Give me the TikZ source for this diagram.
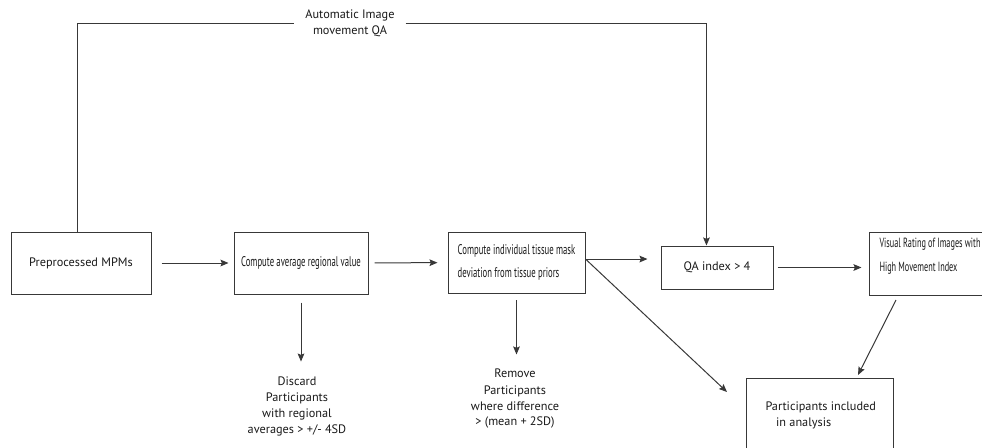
\documentclass[tikz,border=0pt]{standalone}
\usepackage{fontspec}
\setmainfont{PT Sans}
\newfontfamily\condfont[FakeStretch=0.62]{PT Sans}
\usetikzlibrary{arrows.meta}

\tikzset{every picture/.style={line width=0.75pt}}
\tikzset{
  box/.style={draw=black!78, inner sep=0.75pt},
  txt/.style={align=center, inner sep=0.75pt, text=black!90, font=\fontsize{9.2}{12}\selectfont},
  cond/.style={inner sep=0.75pt, text=black!90, font=\condfont\fontsize{10.5}{17.5}\selectfont},
  arrow/.style={draw=black!78, -{Stealth[length=6pt,width=5pt,inset=1pt]}},
  line/.style={draw=black!78}
}

\begin{document}
\begin{tikzpicture}[x=0.75pt,y=0.75pt,yscale=-1,xscale=1]
\useasboundingbox (0,0) rectangle (982,447);
\clip (0,0) rectangle (982,447);

% Boxes
\node [box, txt, minimum width=105pt, minimum height=46.5pt] (pre) at (81,263) {Preprocessed MPMs};
\node [box, cond, minimum width=100.5pt, minimum height=46.5pt] (avg) at (301,263) {Compute average regional value};
\node [box, cond, align=left, minimum width=102.75pt, minimum height=45.75pt] (tis) at (516.5,262.5) {Compute individual tissue mask\\deviation from tissue priors};
\node [box, txt, minimum width=84pt, minimum height=32.25pt] (qa) at (717,267.5) {QA index > 4};
\node [inner sep=0pt, minimum width=84pt, minimum height=46.5pt] (vis) at (926,263.5) {};
\draw [line] (vis.north east) -- (vis.north west) -- (vis.south west) -- (vis.south east);
\node [box, minimum width=110.25pt, minimum height=69pt] (inc) at (819.5,424) {};

% Text Node
\node [cond, font=\condfont\fontsize{10}{18}\selectfont, align=left, anchor=north west] (vistxt) at (878,237) {Visual Rating of Images with\\High Movement Index};
% Text Node
\node [txt, align=left, anchor=north west] (inctxt) at (764,400) {Participants included\\\hspace*{8pt}in analysis};
% Text Node
\node [txt] (dis) at (297,406) {Discard\\Participants\\with regional\\averages > +/- 4SD};
% Text Node
\node [txt] (rem) at (515,399) {Remove\\Participants\\where difference\\> (mean + 2SD)};
% Text Node
\node [txt, inner xsep=8pt] (auto) at (350,23.5) {Automatic Image\\movement QA};

\coordinate (tisout) at ([yshift=-2.6pt]tis.east);
\coordinate (incend) at (727,392);
\coordinate (visout) at (896,300);
\coordinate (incin) at (858,375);

%Straight Lines
\draw [arrow, shorten <=7.5pt, shorten >=3.75pt] (pre) -- (avg);
\draw [arrow, shorten <=4.5pt, shorten >=7.5pt] (avg) -- (tis);
\draw [arrow, shorten >=9.75pt] (tisout) -- (tisout -| qa.west);
\draw [arrow, shorten <=3pt, shorten >=6pt] (qa) -- (qa -| vis.west);
\draw [arrow] (tisout) -- (incend);
\draw [arrow] (visout) -- (incin);
\draw [arrow, shorten <=6pt, shorten >=10pt] (avg.south) -- (avg.south |- dis.north);
\draw [arrow, shorten <=5pt, shorten >=10pt] (tis.south) -- (tis.south |- rem.north);
%Top loop
\draw [line] ([xshift=-2.6pt]pre.north) |- (auto.west);
\draw [arrow] (auto.east) -| ([xshift=-7.9pt]qa.north);

\end{tikzpicture}
\end{document}
